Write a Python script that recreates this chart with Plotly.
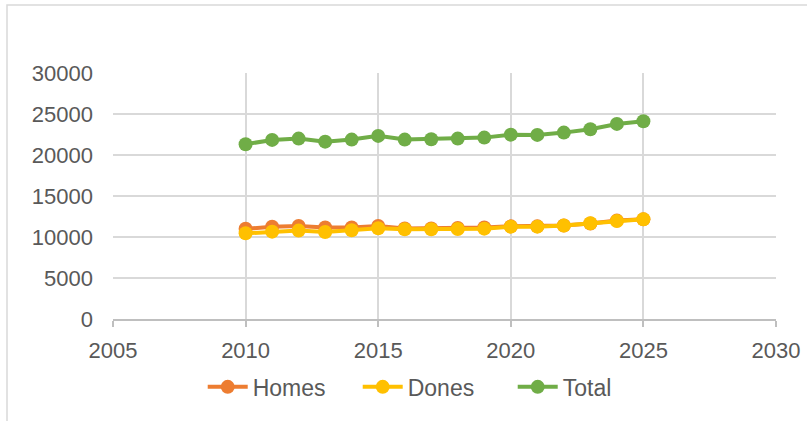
import plotly.graph_objects as go

years = list(range(2010, 2026))
homes = [11000, 11250, 11350, 11150, 11150, 11350, 11050, 11050, 11100, 11150, 11300, 11300, 11400, 11650, 12000, 12150]
dones = [10450, 10650, 10780, 10610, 10820, 11060, 10940, 10940, 10980, 11020, 11260, 11260, 11390, 11670, 11950, 12160]
total = [21310, 21840, 22000, 21630, 21880, 22330, 21880, 21920, 22000, 22120, 22480, 22450, 22730, 23140, 23790, 24120]

x_ticks = [2005, 2010, 2015, 2020, 2025, 2030]
y_ticks = [0, 5000, 10000, 15000, 20000, 25000, 30000]

series = [("Homes", homes, "#ED7D31"), ("Dones", dones, "#FFC000"), ("Total", total, "#70AD47")]

fig = go.Figure()
for name, vals, col in series:
    fig.add_trace(go.Scatter(
        x=years, y=vals, name=name, mode="lines+markers",
        line=dict(color=col, width=4),
        marker=dict(color=col, size=14, line=dict(width=0)),
    ))

font_main = "Liberation Sans, Arial, sans-serif"
fig.update_layout(
    width=807, height=421,
    margin=dict(l=113, r=31, t=73, b=102, autoexpand=False),
    paper_bgcolor="white", plot_bgcolor="white",
    font=dict(family=font_main, size=22, color="#595959"),
    showlegend=True,
    legend=dict(orientation="h", x=0.486, xanchor="center", y=-0.276, yanchor="middle",
                font=dict(size=23, color="#595959"), itemwidth=40, tracegroupgap=0,
                entrywidth=100, entrywidthmode="pixels"),
    xaxis=dict(range=[2005, 2030], tickvals=x_ticks, ticktext=[str(v) for v in x_ticks],
               showgrid=True, gridcolor="#d9d9d9", gridwidth=1.5,
               showline=True, linecolor="#bfbfbf", linewidth=1.5,
               ticks="outside", ticklen=6, tickcolor="#bfbfbf", tickwidth=1.5,
               zeroline=False, ticklabelstandoff=5, automargin=False),
    yaxis=dict(range=[0, 30000], tickvals=y_ticks, ticktext=[str(v) for v in y_ticks],
               showgrid=True, gridcolor="#d9d9d9", gridwidth=1.5,
               zeroline=False, showline=False, ticklabelstandoff=19, automargin=False),
)

fig.add_shape(type="rect", xref="paper", yref="paper",
              x0=(7 - 113) / 663, x1=(840 - 113) / 663,
              y0=(319 - 440) / 246, y1=(319 - 5) / 246,
              line=dict(color="#d9d9d9", width=1.5), fillcolor="rgba(0,0,0,0)", layer="below")

fig.write_html("out.html", config={"displayModeBar": False},
               post_script="document.body.style.margin='0';")
